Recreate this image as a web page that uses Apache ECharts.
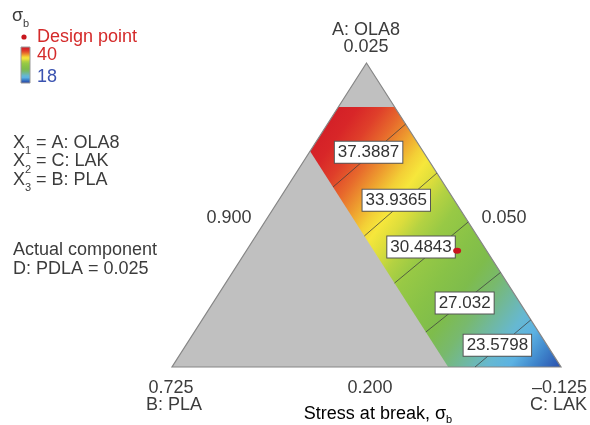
<!DOCTYPE html>
<html>
<head>
<meta charset="utf-8">
<script src="https://cdn.jsdelivr.net/npm/echarts@6/dist/echarts.min.js"></script>
<style>
  html, body { margin: 0; padding: 0; background: #ffffff; }
  #chart { width: 590px; height: 425px; }
</style>
</head>
<body>
<div id="chart"></div>
<script>
// Compositions are pseudo-components [A: OLA8, B: PLA, C: LAK]; each row sums to 1.
const triangleVertices = [[1, 0, 0], [0, 1, 0], [0, 0, 1]];
// Feasible design space (A <= 0.855, B <= 0.29)
const feasibleRegion = [
  [0.855, 0.145, 0], [0.71, 0.29, 0], [0, 0.29, 0.71], [0, 0, 1], [0.855, 0, 0.145]
];
// Stress at break contours
const contourLevels = [37.3887, 33.9365, 30.4843, 27.032, 23.5798];
const contourStarts = [
  [0.592, 0.29, 0.118], [0.431, 0.29, 0.279], [0.276, 0.29, 0.434], [0.115, 0.29, 0.595], [0, 0.221, 0.779]
];
const contourEnds = [
  [0.799, 0, 0.201], [0.638, 0, 0.362], [0.477, 0, 0.523], [0.311, 0, 0.689], [0.155, 0, 0.845]
];
const designPoint = [0.382, 0.076, 0.542];
const scaleRange = [18, 40];

// Axis texts
const vertexNames = ['A: OLA8', 'B: PLA', 'C: LAK'];
const vertexValues = ['0.025', '0.725', '\u20130.125'];
const edgeValues = ['0.900', '0.050', '0.200'];   // AB, AC, BC
const componentKey = [['1', 'A: OLA8'], ['2', 'C: LAK'], ['3', 'B: PLA']];
const actualComponent = ['Actual component', 'D: PDLA = 0.025'];
const axisTitle = 'Stress at break, \u03c3';

// ---- styling ----
const FONT = '"Liberation Sans", Arial, Helvetica, sans-serif';
const TEXT = '#3c3c3c';
const GREY = '#c0c0c0';
// colour ramp keyed by response value
const ramp = [
  [40, '#d21e27'], [38.6, '#d82628'], [37.4, '#df3f2a'], [36.2, '#e76a2c'],
  [35.0, '#eea02f'], [34.0, '#f3cf36'], [33.2, '#f6e73b'], [32.2, '#dcdd3c'],
  [31.2, '#b4d242'], [30.0, '#98c945'], [28.2, '#88c247'], [26.6, '#7ebc4c'],
  [25.2, '#78b96e'], [23.9, '#70b8a0'], [22.6, '#66b8d2'], [21.5, '#5cb2e2'],
  [20.3, '#3f86cc'], [19.2, '#2f5cb4'], [18, '#283c98']
];
// shading axis of the colour field, from the high end to the low end of the scale
const shadeFrom = [0.7592, 0.2659, -0.0251];
const shadeTo = [0.0852, -0.1328, 1.0476];
const labelAlong = [0.49, 0.44, 0.36, 0.52, 0.40];
const labelShift = [-4, -8, -14, 2, -3];

const toXY = c => [c[2] + c[0] / 2, c[0]];
const lerp = (p, q, t) => p.map((v, k) => v + (q[k] - v) * t);
const rampStops = () => ramp.map(([v, c]) => ({
  offset: (scaleRange[1] - v) / (scaleRange[1] - scaleRange[0]), color: c
}));

function drawSimplex(params, api) {
  const tri = triangleVertices.map(c => api.coord(toXY(c)));
  const reg = feasibleRegion.map(c => api.coord(toXY(c)));
  const g0 = api.coord(toXY(shadeFrom));
  const g1 = api.coord(toXY(shadeTo));
  const fill = {
    type: 'linear', global: true,
    x: g0[0], y: g0[1], x2: g1[0], y2: g1[1],
    colorStops: rampStops()
  };
  return {
    type: 'group',
    children: [
      { type: 'polygon', shape: { points: tri }, style: { fill: GREY, stroke: null } },
      { type: 'polygon', shape: { points: reg }, style: { fill: fill, stroke: null } },
      { type: 'polygon', shape: { points: tri }, style: { fill: null, stroke: '#868686', lineWidth: 1.2 } }
    ]
  };
}

function drawContour(params, api) {
  const a = api.coord([api.value(0), api.value(1)]);
  const b = api.coord([api.value(2), api.value(3)]);
  return {
    type: 'line',
    shape: { x1: a[0], y1: a[1], x2: b[0], y2: b[1] },
    style: { stroke: 'rgba(60,60,60,0.75)', lineWidth: 1 }
  };
}

const contourData = contourLevels.map((v, i) => {
  const s = toXY(contourStarts[i]), e = toXY(contourEnds[i]);
  return [s[0], s[1], e[0], e[1], v];
});

const labelData = contourLevels.map((v, i) => {
  const p = toXY(lerp(contourStarts[i], contourEnds[i], labelAlong[i]));
  return { value: [p[0], p[1], v], label: { offset: [0, labelShift[i]] } };
});

function txt(x, y, text, opts) {
  return {
    type: 'text', x: x, y: y, silent: true, z: 100,
    style: Object.assign({
      text: text, fill: TEXT, font: '18px ' + FONT,
      textAlign: 'left', textVerticalAlign: 'middle'
    }, opts || {})
  };
}

const subRich = {
  n: { fontSize: 18, fontFamily: FONT, color: TEXT, lineHeight: 22 },
  s: { fontSize: 11, fontFamily: FONT, color: TEXT, lineHeight: 10, verticalAlign: 'bottom' }
};

const graphic = [
  // response name and legend
  txt(12, 16, '\u03c3'),
  txt(23, 24, 'b', { font: '11px ' + FONT }),
  { type: 'circle', shape: { cx: 24, cy: 37, r: 2.6 }, style: { fill: '#c8161d' }, z: 100 },
  txt(37, 37, 'Design point', { fill: '#d42a2a' }),
  {
    type: 'rect', shape: { x: 21, y: 47, width: 9, height: 36 }, z: 100,
    style: {
      stroke: '#9a9a9a', lineWidth: 1,
      fill: { type: 'linear', x: 0, y: 0, x2: 0, y2: 1, colorStops: rampStops() }
    }
  },
  txt(37, 55, String(scaleRange[1]), { fill: '#d42a2a' }),
  txt(37, 77, String(scaleRange[0]), { fill: '#3a52b0' }),
  // component key
  ...componentKey.flatMap((k, i) => {
    const y = 143 + i * 18.5;
    return [
      txt(13, y, 'X'),
      txt(25, y + 8, k[0], { font: '11px ' + FONT }),
      txt(36, y, '= ' + k[1])
    ];
  }),
  txt(13, 250, actualComponent[0]),
  txt(13, 269, actualComponent[1]),
  // vertex and edge labels
  txt(366, 30, vertexNames[0], { textAlign: 'center' }),
  txt(366, 47, vertexValues[0], { textAlign: 'center' }),
  txt(171, 388, vertexValues[1], { textAlign: 'center' }),
  txt(174, 405, vertexNames[1], { textAlign: 'center' }),
  txt(587, 388, vertexValues[2], { textAlign: 'right' }),
  txt(587, 405, vertexNames[2], { textAlign: 'right' }),
  txt(229, 218, edgeValues[0], { textAlign: 'center' }),
  txt(504, 218, edgeValues[1], { textAlign: 'center' }),
  txt(370, 388, edgeValues[2], { textAlign: 'center' }),
  {
    type: 'text', x: 378, y: 414, silent: true, z: 100,
    style: {
      text: '{n|' + axisTitle + '}{s|b}', rich: subRich,
      textAlign: 'center', textVerticalAlign: 'middle'
    }
  }
];

const chart = echarts.init(document.getElementById('chart'), null, { renderer: 'canvas' });
chart.setOption({
  animation: false,
  grid: { left: 172, right: 29, top: 63, bottom: 58 },
  xAxis: { type: 'value', min: 0, max: 1, show: false },
  yAxis: { type: 'value', min: 0, max: 1, show: false },
  graphic: graphic,
  series: [
    {
      type: 'custom', renderItem: drawSimplex, data: [[0.5, 0.5]],
      silent: true, z: 1, clip: false
    },
    {
      type: 'custom', renderItem: drawContour, data: contourData,
      encode: { x: [0, 2], y: [1, 3] }, silent: true, z: 3, clip: false
    },
    {
      type: 'scatter', data: labelData, symbolSize: 0, silent: true, z: 5,
      itemStyle: { opacity: 1 },
      label: {
        show: true, position: 'inside', opacity: 1,
        formatter: p => String(p.value[2]),
        backgroundColor: '#ffffff', borderColor: '#555555', borderWidth: 1,
        padding: [3, 3, 1, 3], color: '#333333', fontSize: 17, fontFamily: FONT
      }
    },
    {
      type: 'scatter', data: [toXY(designPoint)], symbol: 'circle', symbolSize: [8, 6],
      itemStyle: { color: '#c8161d', opacity: 1 }, silent: true, z: 6
    }
  ]
});
</script>
</body>
</html>
